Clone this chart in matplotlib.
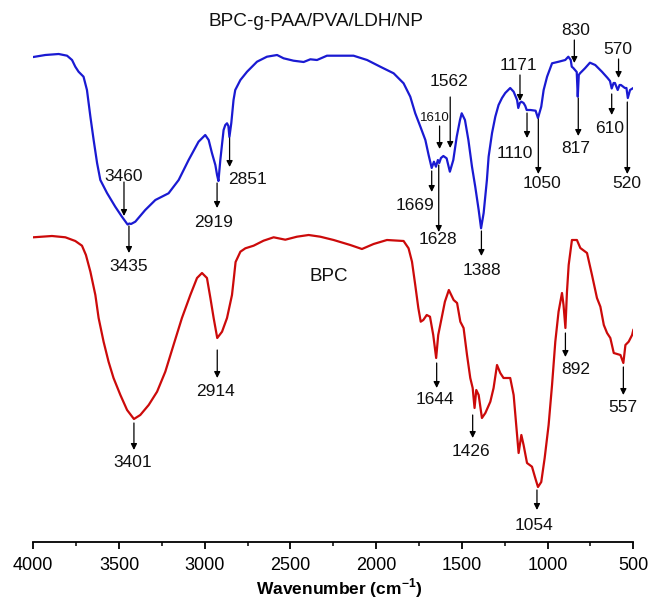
import matplotlib
matplotlib.use("Agg")
import matplotlib.pyplot as plt
from matplotlib.ticker import MultipleLocator
import numpy as np

plt.rcParams['font.family'] = ['Liberation Sans', 'DejaVu Sans']
plt.rcParams['mathtext.fontset'] = 'custom'
plt.rcParams['mathtext.rm'] = 'Liberation Sans'
plt.rcParams['mathtext.bf'] = 'Liberation Sans:bold'

# ---- data (wavenumber in cm-1, signal in a.u., larger value = lower on chart) ----
blue_wn = [4000, 3930, 3852, 3803, 3774, 3755, 3736, 3707, 3687, 3667, 3648, 3628, 3609, 3570,
           3522, 3483, 3465, 3450, 3440, 3430, 3405, 3347, 3288, 3211, 3152, 3094, 3036, 2997,
           2977, 2958, 2938, 2928, 2920, 2909, 2890, 2880, 2870, 2862, 2856, 2845, 2832, 2822,
           2792, 2753, 2695, 2637, 2578, 2540, 2482, 2423, 2384, 2345, 2287, 2132, 2053, 1976,
           1898, 1840, 1801, 1772, 1742, 1713, 1694, 1676, 1663, 1651, 1640, 1632, 1622, 1608,
           1589, 1570, 1550, 1530, 1511, 1501, 1482, 1462, 1441, 1422, 1402, 1388, 1373, 1354,
           1344, 1324, 1305, 1286, 1266, 1247, 1218, 1198, 1178, 1171, 1162, 1153, 1140, 1130,
           1122, 1100, 1070, 1056, 1037, 1023, 1003, 974, 935, 897, 879, 865, 859, 850, 840,
           830, 824, 818, 811, 782, 753, 722, 683, 650, 636, 626, 615, 607, 591, 580, 572,
           549, 540, 532, 519, 500]
blue_y = [57, 55, 54, 55.7, 60, 66.7, 71.7, 76.7, 90, 116.7, 140, 163, 180, 193,
          206.7, 216.7, 221, 224.5, 223.5, 224, 221.7, 210, 200, 193.3, 180, 160, 141.7, 135,
          140, 153, 165, 175, 181, 160, 130, 125, 123.3, 126, 137, 123, 100, 90,
          80, 71.7, 61.7, 56.7, 55, 58.3, 60.7, 62, 59.3, 60, 55.7, 55.7, 60, 66.7,
          73.3, 83.3, 96.7, 113.3, 126.7, 140, 155, 168, 161.7, 166.7, 160, 163, 158, 156,
          158.3, 171.7, 160, 136.7, 120, 113.3, 120, 140, 166.7, 186.7, 210, 228.3, 213, 180,
          156.7, 133, 116.7, 105, 98, 93, 88, 91.7, 100, 108, 103, 101.7, 103, 106,
          110, 110, 110.7, 118, 106.7, 90, 76.7, 63.3, 61.7, 60, 56.7, 60, 66.7, 68, 70,
          72, 96.7, 75, 73.3, 68.3, 62.7, 65, 71.7, 78, 81, 88.5, 83, 83, 90, 85, 85,
          88, 88, 98, 90, 88]

red_wn = [4000, 3891, 3813, 3755, 3716, 3693, 3667, 3638, 3619, 3590, 3561, 3532, 3492, 3453,
          3413, 3376, 3327, 3278, 3230, 3182, 3133, 3084, 3045, 3016, 2987, 2967, 2948, 2927,
          2899, 2870, 2841, 2830, 2820, 2792, 2763, 2715, 2657, 2598, 2530, 2462, 2394, 2326,
          2248, 2151, 2083, 2015, 1937, 1840, 1811, 1791, 1772, 1754, 1740, 1725, 1705, 1686,
          1667, 1650, 1638, 1618, 1599, 1576, 1548, 1528, 1509, 1490, 1470, 1451, 1437, 1426,
          1416, 1402, 1383, 1363, 1334, 1315, 1295, 1276, 1257, 1218, 1198, 1178, 1169, 1153,
          1140, 1120, 1091, 1072, 1056, 1037, 1017, 994, 974, 955, 936, 916, 907, 896, 887,
          877, 858, 829, 809, 770, 741, 712, 692, 672, 653, 634, 614, 575, 558, 546, 527,
          507, 500]
red_y = [237.3, 236, 237.3, 241, 245.7, 255, 271.7, 295, 318, 341.7, 361.7, 378, 395, 410,
         419, 415, 405, 391.7, 371.7, 345, 318, 295, 278, 273, 278, 298, 318, 338,
         331.7, 318, 295, 278, 262, 251.7, 248.3, 245.7, 240.7, 237.3, 239.7, 236.7, 235, 236.7,
         240, 245, 249, 244, 240, 241, 248.3, 261.7, 285, 308, 321.7, 320, 315, 316.7,
         335, 358, 335, 318, 301.7, 290, 300, 303, 321.7, 328, 355, 378, 388, 408,
         390, 395, 418, 413, 401.7, 388, 365, 373, 378, 378, 395, 435, 453, 435,
         445, 463, 466.7, 478, 487, 482, 458, 425, 385, 341.7, 311.7, 293, 305, 328, 292,
         265, 240, 240, 248, 253, 275, 298, 306.7, 325, 333, 338, 353, 355, 363, 345, 341.7,
         335, 330]

x_ticks = [4000, 3500, 3000, 2500, 2000, 1500, 1000, 500]

# peak labels: (text, arrow x, arrow tail y, arrow head y, text x, text y, fontsize)
blue_peaks = [
    ("3460", 3471, 182, 216, 3475, 176.7, 12.5),
    ("3435", 3442, 226, 253, 3442, 266.7, 12.5),
    ("2919", 2928, 183, 208, 2950, 222.7, 12.5),
    ("2851", 2855, 138, 167, 2753, 180, 12.5),
    ("1669", 1676, 171, 192, 1776, 205, 12.5),
    ("1628", 1635, 165, 232, 1639, 239, 12.5),
    ("1610", 1630, 126, 149, 1659, 118.3, 9.5),
    ("1562", 1568, 97, 148, 1575, 81.7, 12.5),
    ("1388", 1386, 231, 256, 1381, 270.7, 12.5),
    ("1171", 1161, 75, 101, 1171, 65, 12.5),
    ("1110", 1120, 113, 138, 1190, 153, 12.5),
    ("1050", 1054, 119, 174, 1031, 183, 12.5),
    ("830", 844, 40, 63, 838, 30.7, 12.5),
    ("817", 821, 98, 136, 834, 148.3, 12.5),
    ("610", 626, 94, 115, 636, 128.3, 12.5),
    ("570", 586, 59, 78, 591, 49, 12.5),
    ("520", 535, 102, 174, 539, 183.3, 12.5),
]
red_peaks = [
    ("3401", 3413, 423, 450, 3420, 462.7, 12.5),
    ("2914", 2927, 350, 378, 2940, 391.7, 12.5),
    ("1644", 1647, 363, 388, 1659, 400, 12.5),
    ("1426", 1437, 415, 438, 1449, 451.7, 12.5),
    ("1054", 1062, 490, 510, 1080, 525, 12.5),
    ("892", 896, 333, 357, 836, 370, 12.5),
    ("557", 558, 367, 395, 558, 407.7, 12.5),
]

blue_color = "#1a1ad2"
red_color = "#cc0a0a"

fig = plt.figure(figsize=(6.49, 5.99), dpi=100)
ax = fig.add_axes([33.3 / 649, 1 - 541.5 / 599, 600 / 649, 541.5 / 599])

ax.plot(blue_wn, blue_y, color=blue_color, lw=1.6)
ax.plot(red_wn, red_y, color=red_color, lw=1.6)

ax.set_xlim(4000, 500)
ax.set_ylim(541.5, 0)

for peaks in (blue_peaks, red_peaks):
    for txt, xa, yt, yh, xt, ytx, fs in peaks:
        ax.annotate('', xy=(xa, yh), xytext=(xa, yt),
                    arrowprops=dict(arrowstyle='-|>', color='black', lw=0.9,
                                    mutation_scale=9, shrinkA=0, shrinkB=0))
        ax.text(xt, ytx, txt, ha='center', va='center', fontsize=fs, color='#111111')

ax.text(2348, 21.7, "BPC-g-PAA/PVA/LDH/NP", ha='center', va='center', fontsize=13.7, color='#111111')
ax.text(2279, 276.7, "BPC", ha='center', va='center', fontsize=13.5, color='#111111')

for s in ('left', 'right', 'top'):
    ax.spines[s].set_visible(False)
ax.spines['bottom'].set_linewidth(1.3)
ax.set_yticks([])
ax.set_xticks(x_ticks)
ax.xaxis.set_minor_locator(MultipleLocator(250))
ax.tick_params(axis='x', which='major', direction='out', length=5, width=1.3,
               labelsize=13, pad=6)
ax.tick_params(axis='x', which='minor', direction='out', length=3, width=1.1)

fig.text(339 / 649, 1 - 588 / 599, r"Wavenumber (cm$^{\mathbf{-1}}$)", ha='center', va='center',
         fontsize=12.5, fontweight='bold')

fig.savefig("out.png", dpi=100)
